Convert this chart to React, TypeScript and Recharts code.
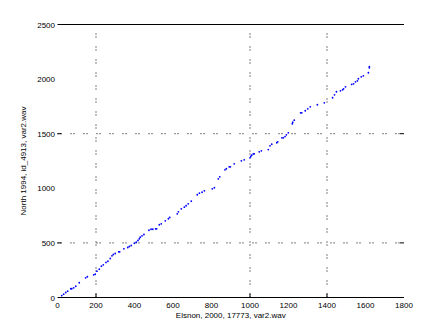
import React from 'react';
import { ScatterChart, Scatter, XAxis, YAxis, ReferenceLine } from 'recharts';

const xValues = [
  22, 32, 43, 53, 69, 74, 84, 95, 113, 146, 155, 188, 196, 205, 217, 228, 238, 252, 262, 274,
  283, 290, 300, 318, 323, 345, 365, 373, 383, 399, 409, 418, 425, 430, 439, 449, 475, 486, 495, 510,
  515, 529, 539, 560, 576, 583, 622, 628, 643, 659, 668, 679, 695, 726, 737, 751, 763, 804, 815, 835,
  843, 870, 877, 892, 898, 918, 955, 970, 1000, 1004, 1009, 1017, 1022, 1048, 1059, 1095, 1104, 1113, 1139, 1144,
  1166, 1173, 1182, 1189, 1199, 1220, 1222, 1230, 1263, 1269, 1287, 1300, 1313, 1350, 1386, 1429, 1439, 1449, 1470, 1481,
  1486, 1496, 1528, 1538, 1548, 1558, 1563, 1578, 1589, 1615, 1620, 1620,
];
const yValues = [
  18, 30, 46, 58, 80, 80, 89, 103, 135, 180, 190, 208, 213, 241, 259, 287, 299, 321, 332, 357,
  382, 394, 403, 418, 418, 446, 458, 467, 476, 497, 506, 522, 538, 552, 565, 577, 616, 625, 625, 629,
  629, 666, 675, 702, 721, 733, 766, 785, 812, 827, 840, 858, 882, 941, 955, 964, 977, 995, 1005, 1087,
  1105, 1169, 1179, 1197, 1197, 1224, 1252, 1261, 1279, 1291, 1303, 1316, 1316, 1334, 1343, 1355, 1389, 1404, 1417, 1426,
  1462, 1462, 1474, 1490, 1508, 1591, 1605, 1624, 1691, 1691, 1710, 1728, 1746, 1765, 1783, 1829, 1856, 1884, 1893, 1902,
  1911, 1929, 1951, 1957, 1975, 1984, 2003, 2021, 2030, 2058, 2103, 2113,
];
const xTicks = [0, 200, 400, 600, 800, 1000, 1200, 1400, 1600, 1800];
const yTicks = [0, 500, 1000, 1500, 2000, 2500];
const gridX = [200, 1000, 1400];
const gridY = [500, 1500];
const xLabel = 'Elsnon, 2000, 17773, var2.wav';
const yLabel = 'North 1994, id_4913, var2.wav';

const data = xValues.map((x, i) => ({ x, y: yValues[i] }));

const FONT = 'Liberation Sans, Arial, sans-serif';

const BottomTick = (props: any) => {
  const { x, y, payload } = props;
  const show = gridX.includes(payload.value);
  return (
    <g>
      {show && <line x1={x} x2={x} y1={y} y2={y - 4} stroke="#000" />}
      <text x={x} y={y + 10.5} textAnchor="middle" fontSize={8} fontFamily={FONT} fill="#000">
        {payload.value}
      </text>
    </g>
  );
};

const TopTick = (props: any) => {
  const { x, y, payload } = props;
  const show = gridX.includes(payload.value);
  return <g>{show && <line x1={x} x2={x} y1={y} y2={y + 4} stroke="#000" />}</g>;
};

const LeftTick = (props: any) => {
  const { x, y, payload } = props;
  const show = gridY.includes(payload.value);
  return (
    <g>
      {show && <line x1={x} x2={x + 4} y1={y} y2={y} stroke="#000" />}
      <text x={x - 2.5} y={y + 3} textAnchor="end" fontSize={8} fontFamily={FONT} fill="#000">
        {payload.value}
      </text>
    </g>
  );
};

const RightTick = (props: any) => {
  const { x, y, payload } = props;
  const show = gridY.includes(payload.value);
  return <g>{show && <line x1={x} x2={x - 4} y1={y} y2={y} stroke="#000" />}</g>;
};

const renderYLabel = (p: any) => {
  const vb = p.viewBox;
  const cx = vb.x + 23;
  const cy = vb.y + vb.height / 2;
  return (
    <text
      transform={`translate(${cx}, ${cy}) rotate(-90)`}
      textAnchor="middle"
      dominantBaseline="central"
      fontSize={8}
      fontFamily={FONT}
      fill="#000"
    >
      {yLabel}
    </text>
  );
};

const renderXLabel = (p: any) => {
  const vb = p.viewBox;
  return (
    <text
      x={vb.x + vb.width / 2}
      y={vb.y + 20.5}
      textAnchor="middle"
      fontSize={8}
      fontFamily={FONT}
      fill="#000"
    >
      {xLabel}
    </text>
  );
};

const Dot = (props: any) => {
  const { cx, cy } = props;
  return <circle cx={cx} cy={cy} r={0.9} fill="#0000ff" />;
};

export default function App() {
  return (
    <div style={{ position: 'absolute', left: 0, top: 0, width: 447, height: 335, background: '#fff' }}>
      <ScatterChart width={447} height={335} margin={{ top: 0, right: 0, bottom: 0, left: 0 }}>
        <XAxis
          xAxisId="b"
          dataKey="x"
          type="number"
          domain={[0, 1800]}
          ticks={xTicks}
          orientation="bottom"
          height={37.5}
          tickSize={0}
          tickMargin={0}
          tickLine={false}
          axisLine={{ stroke: '#000' }}
          tick={<BottomTick />}
          label={renderXLabel}
          interval={0}
          allowDataOverflow
        />
        <XAxis
          xAxisId="t"
          type="number"
          domain={[0, 1800]}
          ticks={xTicks}
          orientation="top"
          height={24.5}
          tickSize={0}
          tickMargin={0}
          tickLine={false}
          axisLine={{ stroke: '#000' }}
          tick={<TopTick />}
          interval={0}
          allowDataOverflow
        />
        <YAxis
          yAxisId="l"
          dataKey="y"
          type="number"
          domain={[0, 2500]}
          ticks={yTicks}
          orientation="left"
          width={57.5}
          tickSize={0}
          tickMargin={0}
          tickLine={false}
          axisLine={false}
          tick={<LeftTick />}
          label={renderYLabel}
          interval={0}
          allowDataOverflow
        />
        <YAxis
          yAxisId="r"
          type="number"
          domain={[0, 2500]}
          ticks={yTicks}
          orientation="right"
          width={43}
          tickSize={0}
          tickMargin={0}
          tickLine={false}
          axisLine={false}
          tick={<RightTick />}
          interval={0}
          allowDataOverflow
        />
        {gridX.map((v) => (
          <ReferenceLine key={'gx' + v} x={v} xAxisId="b" yAxisId="l" stroke="#000" strokeDasharray="1 2 1 9" />
        ))}
        {gridY.map((v) => (
          <ReferenceLine key={'gy' + v} y={v} xAxisId="b" yAxisId="l" stroke="#000" strokeDasharray="1 2 1 9" />
        ))}
        <Scatter data={data} xAxisId="b" yAxisId="l" shape={<Dot />} isAnimationActive={false} />
      </ScatterChart>
    </div>
  );
}
